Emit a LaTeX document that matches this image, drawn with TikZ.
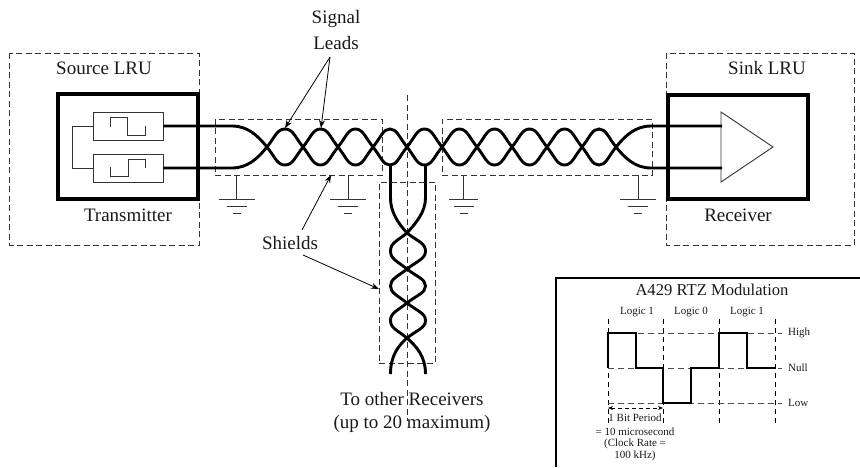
\documentclass[tikz,border=0pt]{standalone}
\usepackage{fontspec}
\setmainfont{Liberation Serif}
\usetikzlibrary{arrows.meta}
\tikzset{
  x=1pt,y=-1pt,
  dashbox/.style={draw=black!80,line width=0.9pt,dash pattern=on 6pt off 3.5pt},
  thinline/.style={draw=black!80,line width=0.9pt},
  wire/.style={draw=black,line width=2.9pt},
  frame/.style={draw=black,line width=3.2pt},
  lbl/.style={font=\fontsize{19}{19}\selectfont,inner sep=0pt,text=black!90},
  small/.style={font=\fontsize{11}{11}\selectfont,inner sep=0pt,text=black!90},
  ptr/.style={draw=black,line width=0.8pt,-{Stealth[length=8pt,width=6pt]}},
}
\newcommand{\gnd}[4]{%
  \coordinate (g#1) at (#2,199);
  \draw[thinline] (#2,#3) -- (g#1);
  \draw[thinline] (#2-#4,199) -- (#2+#4,199);
  \draw[thinline] (#2-10,206) -- (#2+10,206);
  \draw[thinline] (#2-4,213) -- (#2+4,213);}
\begin{document}
\begin{tikzpicture}
\useasboundingbox (0,0) rectangle (860,467);
% LRU boxes
\draw[dashbox] (9.5,53) rectangle (199,245);
\draw[dashbox] (666,53) rectangle (854,245);
\draw[frame] (58,94) rectangle (198,199);
\draw[frame] (668,95) rectangle (808,199);
% shields
\node (s1) [dashbox,minimum width=167pt,minimum height=56pt,inner sep=0pt] at (298.5,147) {};
\node (s2) [dashbox,minimum width=210pt,minimum height=56pt,inner sep=0pt] at (547,147) {};
\node (s3) [dashbox,minimum width=56pt,minimum height=181pt,inner sep=0pt] at (407,272.5) {};
\draw[dashbox] (407,95) -- (407,421);
% transmitter
\node (t1) [thinline,minimum width=70pt,minimum height=28pt,inner sep=0pt] at (128,126) {};
\node (t2) [thinline,minimum width=70pt,minimum height=28pt,inner sep=0pt] at (128,168) {};
\draw[thinline] (t1.west) -- (72,126) -- (72,168) -- (t2.west);
\draw[thinline] (110.5,127) -- (110.5,117) -- (127.5,117) -- (127.5,135) -- (145.5,135) -- (145.5,126);
\draw[thinline] (110.5,167) -- (110.5,176) -- (128,176) -- (128,159) -- (145.5,159) -- (145.5,168);
% receiver
\coordinate (ra) at (721,112);
\coordinate (rb) at (721,182);
\coordinate (rc) at (773,147);
\draw[thinline] (ra) -- (rc) -- (rb) -- cycle;
% grounds
\gnd{a}{236.5}{175}{18}
\gnd{b}{348}{175}{18}
\gnd{c}{463.5}{175}{14.5}
\gnd{d}{638}{175}{18}
% wires
\foreach \a/\b in {267/303,303/338,338/373,373/407,407/442,442/477,477/512,512/547,547/582,582/616}{
  \draw[wire] (\a,147) .. controls (\a+8,137) and (\a+10,129) .. ({(\a+\b)/2},129) .. controls (\b-10,129) and (\b-8,137) .. (\b,147);
  \draw[wire] (\a,147) .. controls (\a+8,157) and (\a+10,165) .. ({(\a+\b)/2},165) .. controls (\b-10,165) and (\b-8,157) .. (\b,147);
}
% left and right ends
\draw[wire] (t1.east) -- (232,126) .. controls (248,126) and (258,136) .. (267,147);
\draw[wire] (t2.east) -- (232,168) .. controls (248,168) and (258,158) .. (267,147);
\coordinate (ri1) at (722,126);
\coordinate (ri2) at (722,168);
\draw[wire] (ri1) -- (651,126) .. controls (635,126) and (625,136) .. (616,147);
\draw[wire] (ri2) -- (651,168) .. controls (635,168) and (625,158) .. (616,147);
% branch
\draw[wire] (390.5,165) -- (390.5,198) .. controls (390.5,212) and (398,223) .. (407,233);
\draw[wire] (425.5,165) -- (425.5,198) .. controls (425.5,212) and (416,223) .. (407,233);
\foreach \a/\b in {233/269,269/303,303/338}{
  \draw[wire] (407,\a) .. controls (397,{\a+8}) and (390.5,{\a+10}) .. (390.5,{(\a+\b)/2}) .. controls (390.5,{\b-10}) and (397,{\b-8}) .. (407,\b);
  \draw[wire] (407,\a) .. controls (417,{\a+8}) and (425.5,{\a+10}) .. (425.5,{(\a+\b)/2}) .. controls (425.5,{\b-10}) and (417,{\b-8}) .. (407,\b);
}
\draw[wire] (407,338) .. controls (398,346) and (390.5,356) .. (390.5,374);
\draw[wire] (407,338) .. controls (416,346) and (425.5,356) .. (425.5,374);
% labels
\node[lbl] (source) at (104,68) {Source LRU};
\node[lbl] (transm) at (128,215) {Transmitter};
\node[lbl] (sink) at (767,68) {Sink LRU};
\node[lbl] (recv) at (738,215) {Receiver};
\node[lbl] (sig) at (336,19) {Signal};
\node[lbl] (lead) at (336,43) {Leads};
\node[lbl] (shields) at (290,243) {Shields};
\node[lbl] (other) at (412,399) {To other Receivers};
\node[lbl] (upto) at (412,424) {(up to 20 maximum)};
% pointers
\coordinate (lf) at (330,57);
\coordinate (l1) at (285,128);
\coordinate (l2) at (321,128);
\draw[ptr] (lf) -- (l1);
\draw[ptr] (lf) -- (l2);
\coordinate (sa) at (302,230);
\coordinate (sb) at (331,175);
\coordinate (sc) at (303,255);
\coordinate (sd) at (379,289);
\draw[ptr] (sa) -- (sb);
\draw[ptr] (sc) -- (sd);
% inset
\draw[draw=black,line width=2pt] (555.5,467) -- (555.5,277.5) -- (860,277.5);
\node[lbl,font=\fontsize{16.6}{16.6}\selectfont] (title) at (712,290) {A429 RTZ Modulation};
\node[small] (lg1) at (637,312) {Logic 1};
\node[small] (lg0) at (691,312) {Logic 0};
\node[small] (lg2) at (747,312) {Logic 1};
\foreach \x in {608,663,719,775}{\draw[draw=black,line width=0.7pt,dash pattern=on 5pt off 4pt] (\x,319) -- (\x,424);}
\foreach \y in {333,368,403}{\draw[draw=black!70,line width=0.8pt,dash pattern=on 6pt off 4pt] (608,\y) -- (782,\y);}
\node[small,anchor=west] (hi) at (788,333) {High};
\node[small,anchor=west] (nu) at (788,368) {Null};
\node[small,anchor=west] (lo) at (788,403) {Low};
\draw[draw=black,line width=1.7pt] (608,368) -- (608,333) -- (636,333) -- (636,368) -- (663,368) -- (663,403) -- (691,403) -- (691,368) -- (719,368) -- (719,333) -- (747,333) -- (747,368) -- (775,368);
\coordinate (ba) at (608,408);
\coordinate (bb) at (663,408);
\draw[draw=black,line width=0.7pt,dash pattern=on 4pt off 3pt,{Stealth[length=5pt,width=4pt]}-{Stealth[length=5pt,width=4pt]}] (ba) -- (bb);
\node[small] (p1) at (635,418) {1 Bit Period};
\node[small] (p2) at (635,432) {= 10 microsecond};
\node[small] (p3) at (635,444) {(Clock Rate =};
\node[small] (p4) at (635,456) {100 kHz)};
\end{tikzpicture}
\end{document}
